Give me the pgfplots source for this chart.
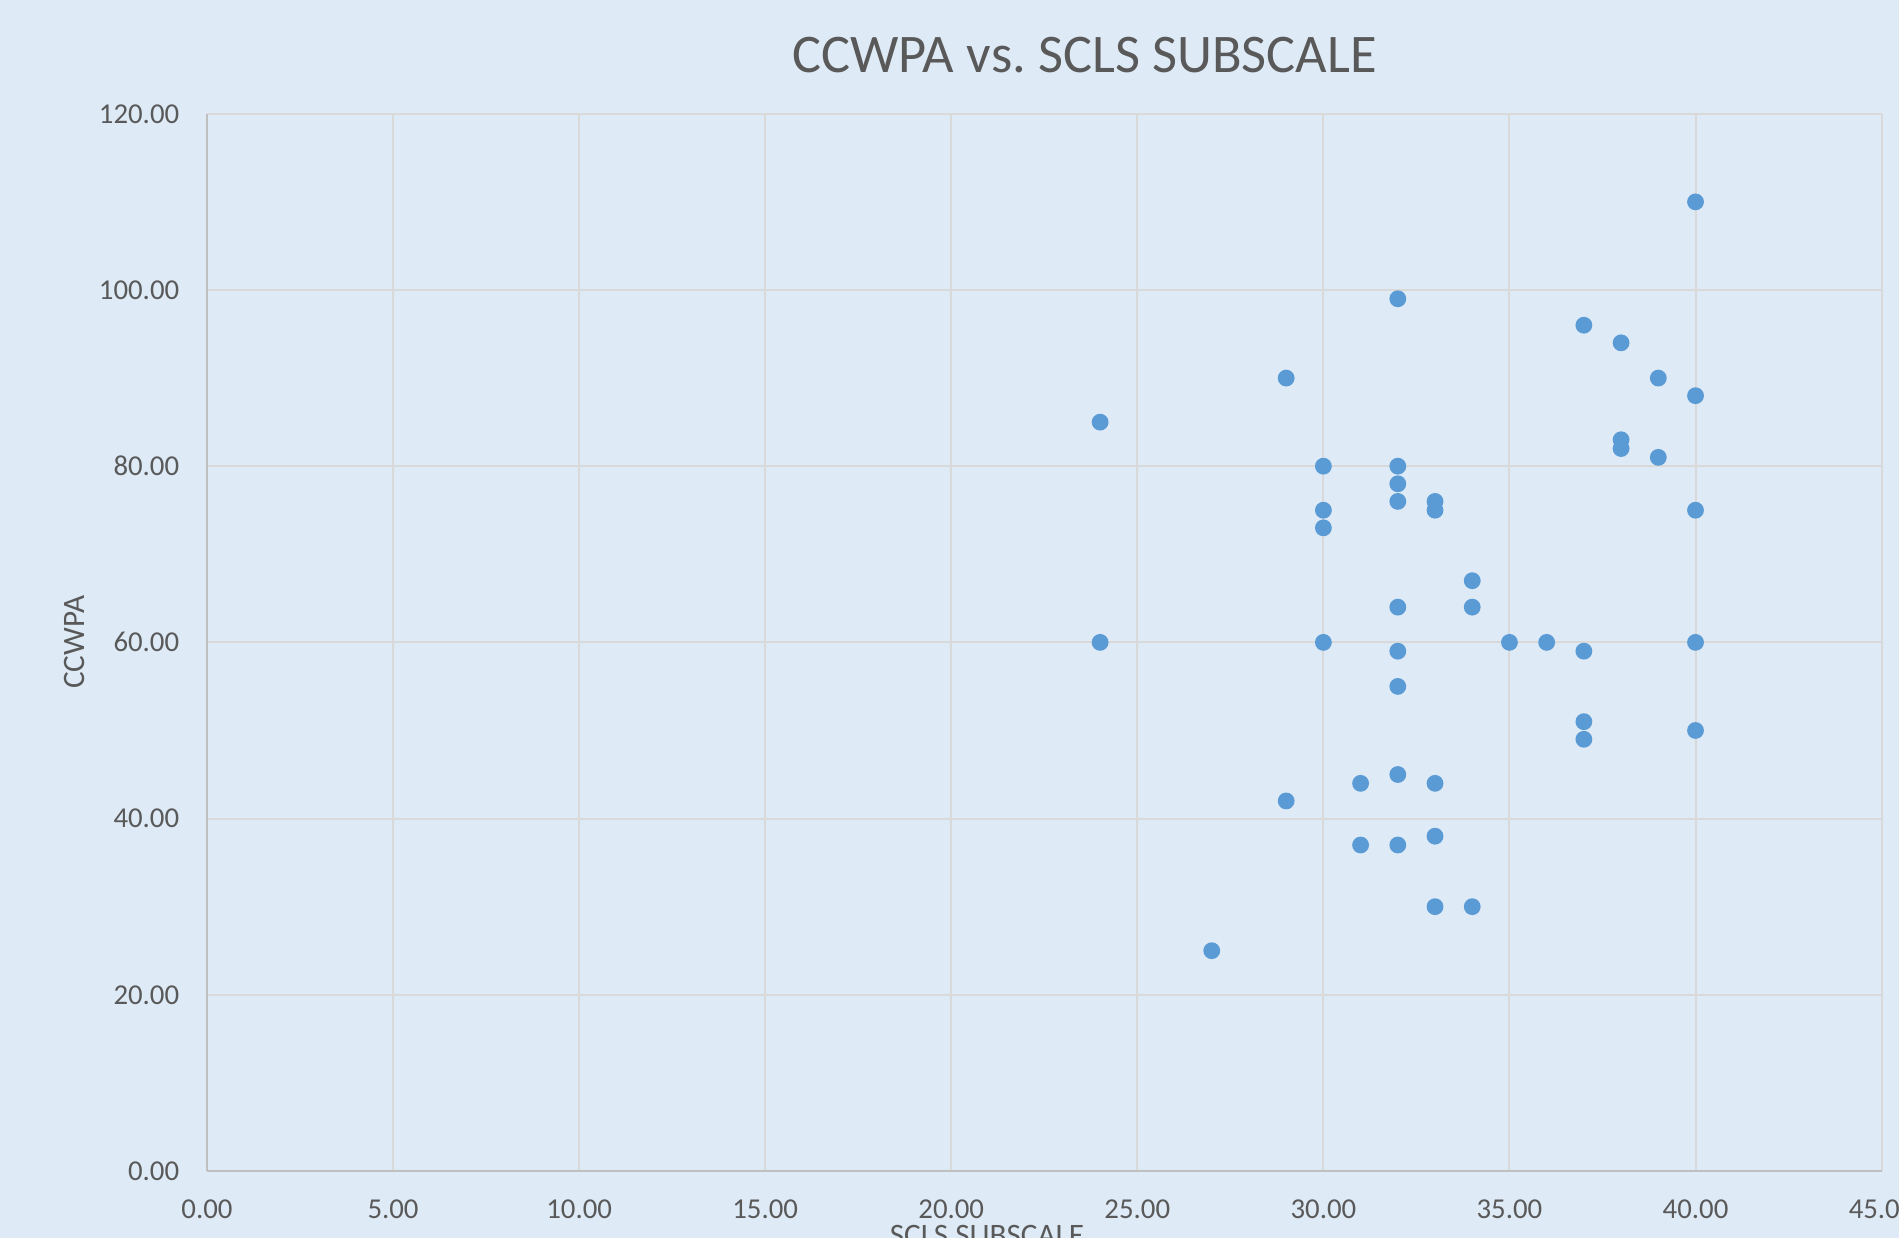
\documentclass[border=0pt]{standalone}
\usepackage{fontspec}
\setmainfont{Carlito}
\usepackage{pgfplots}
\pgfplotsset{compat=1.18}
\definecolor{bg}{HTML}{DEEAF6}
\definecolor{mk}{HTML}{5B9BD5}
\definecolor{txt}{HTML}{595959}
\definecolor{gridc}{HTML}{D9D9D9}
\definecolor{axc}{HTML}{BFBFBF}
\begin{document}
\begin{tikzpicture}
\fill[bg] (-51.75pt,-16.75pt) rectangle ++(474.75pt,309.5pt);
\begin{axis}[
  at={(0,0)}, anchor=south west,
  scale only axis, width=418.65pt, height=264.3pt,
  xmin=0, xmax=45, ymin=0, ymax=120,
  xtick distance=5, ytick distance=20,
  axis x line*=bottom, axis y line*=left,
  axis line style={axc, line width=0.6pt},
  major tick length=0pt,
  grid=major, major grid style={gridc, line width=0.5pt},
  tick label style={font=\fontsize{7.2}{8}\selectfont, text=txt},
  /pgf/number format/assume math mode=true,
  /pgf/number format/.cd, fixed, fixed zerofill, precision=2, /pgfplots/.cd,
  xticklabel style={anchor=north, inner sep=0pt, yshift=-7.1pt},
  yticklabel style={anchor=east, inner sep=0pt, xshift=-6.75pt},
  clip=false,
]
\addplot[only marks, mark=*, mark size=1.9pt, mk, mark options={fill=mk, draw=mk}] coordinates {
(24,85) (24,60) (27,25) (29,90) (29,42) (30,80) (30,75) (30,73) (30,60)
(31,44) (31,37) (32,99) (32,80) (32,78) (32,76) (32,64) (32,59) (32,55)
(32,45) (32,37) (33,76) (33,75) (33,44) (33,38) (33,30) (34,67) (34,64)
(34,30) (35,60) (36,60) (37,96) (37,59) (37,51) (37,49) (38,94) (38,83)
(38,82) (39,90) (39,81) (40,110) (40,88) (40,75) (40,60) (40,50)
};
\end{axis}
\node[anchor=base, text=txt, font=\fontsize{13.6}{16}\selectfont, inner sep=0pt] at (219.4pt,274.6pt) {CCWPA vs.\ SCLS SUBSCALE};
\node[anchor=base, text=txt, font=\fontsize{7.8}{9}\selectfont, inner sep=0pt] at (195pt,-18.75pt) {SCLS SUBSCALE};
\node[anchor=base, rotate=90, text=txt, font=\fontsize{7.8}{9}\selectfont, inner sep=0pt] at (-30.5pt,132.15pt) {CCWPA};
\pgfresetboundingbox
\path (-51.75pt,-16.75pt) rectangle ++(474.75pt,309.5pt);
\end{tikzpicture}
\end{document}
